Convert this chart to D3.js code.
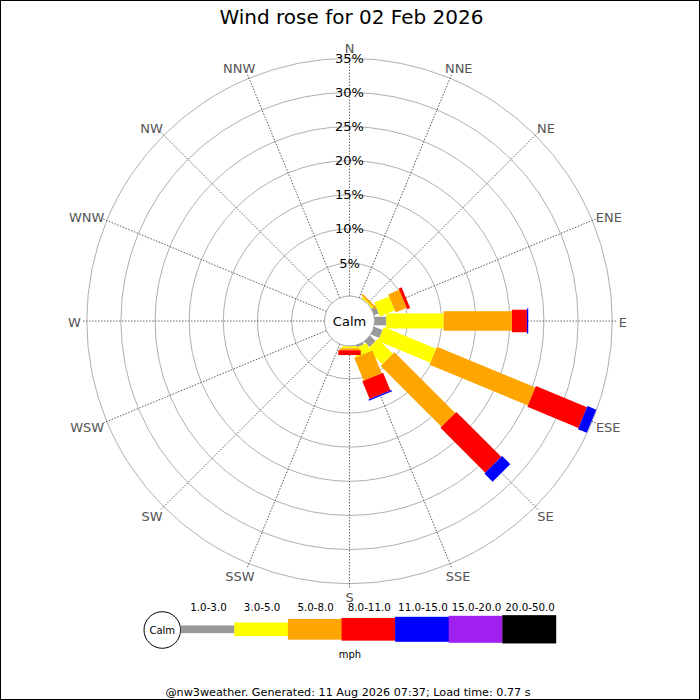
<!DOCTYPE html>
<html>
<head>
<meta charset="utf-8">
<script src="https://cdn.jsdelivr.net/npm/d3@7"></script>
<style>
  body { margin: 0; background: #fff; }
  svg { display: block; font-family: "DejaVu Sans", sans-serif; }
</style>
</head>
<body>
<div id="app"></div>
<script>
// wind rose data: % of time per direction, one array per speed band (mph)
const directions = ['N', 'NNE', 'NE', 'ENE', 'E', 'ESE', 'SE', 'SSE',
  'S', 'SSW', 'SW', 'WSW', 'W', 'WNW', 'NW', 'NNW'];
const speedBins = ['1.0-3.0', '3.0-5.0', '5.0-8.0', '8.0-11.0', '11.0-15.0', '15.0-20.0', '20.0-50.0'];
const band1to3   = [0, 0, 0.1, 0.9, 1.9, 1.5, 1.3, 0.5, 0.2, 0, 0, 0, 0, 0, 0, 0];
const band3to5   = [0, 0, 0.3, 2.35, 8.4, 8.3, 3.1, 1.3, 0.3, 0, 0, 0, 0, 0, 0, 0];
const band5to8   = [0, 0, 0.3, 1.75, 10.0, 15.6, 12.6, 3.6, 0.3, 0, 0, 0, 0, 0, 0, 0];
const band8to11  = [0, 0, 0, 0.45, 2.2, 8.1, 9.3, 2.8, 0.7, 0, 0, 0, 0, 0, 0, 0];
const band11to15 = [0, 0, 0, 0, 0.2, 1.4, 1.7, 0.2, 0, 0, 0, 0, 0, 0, 0, 0];
const band15to20 = [0, 0, 0, 0, 0, 0, 0, 0, 0, 0, 0, 0, 0, 0, 0, 0];
const band20to50 = [0, 0, 0, 0, 0, 0, 0, 0, 0, 0, 0, 0, 0, 0, 0, 0];
const pctTicks = [5, 10, 15, 20, 25, 30, 35];

const TITLE = 'Wind rose for 02 Feb 2026';
const FOOTER = '@nw3weather. Generated: 11 Aug 2026 07:37; Load time: 0.77 s';

const w = 700;
const h = 700;
const cx = 349.5;
const cy = 321;

const bands = [band1to3, band3to5, band5to8, band8to11, band11to15, band15to20, band20to50];
const colors = ['#999999', '#ffff00', '#ffa500', '#ff0000', '#0000ff', '#a020f0', '#000000'];
const petalWidth = [8.5, 15, 19.5, 22.5, 25, 27, 28.5];
const legendHeight = [7.7, 13.7, 20.7, 22.7, 25, 27, 28.3];

const rows = directions.map((dir, i) => {
  const row = { dir: dir, angle: i * 22.5 };
  speedBins.forEach((b, j) => { row[b] = bands[j][i]; });
  return row;
});

const stacked = d3.stack().keys(speedBins)(rows);

const r = d3.scaleLinear().domain([0, 35]).range([23.8, 262.7]);

const svg = d3.select('#app').append('svg')
  .attr('width', w)
  .attr('height', h);

svg.append('rect')
  .attr('x', 0.5).attr('y', 0.5)
  .attr('width', w - 1).attr('height', h - 1)
  .attr('fill', '#fff')
  .attr('stroke', '#000');

//////////TITLE//////////
svg.append('text')
  .attr('x', 351.5)
  .attr('y', 24)
  .attr('text-anchor', 'middle')
  .attr('font-size', 20)
  .attr('fill', '#000')
  .text(TITLE);

const plot = svg.append('g').attr('transform', `translate(${cx},${cy})`);

//////////GRID//////////
plot.selectAll('circle.ring')
  .data(pctTicks)
  .join('circle')
  .attr('class', 'ring')
  .attr('r', d => r(d))
  .attr('fill', 'none')
  .attr('stroke', '#b0b0b0')
  .attr('stroke-width', 1);

plot.selectAll('line.spoke')
  .data(rows)
  .join('line')
  .attr('class', 'spoke')
  .attr('x1', 0).attr('y1', -25)
  .attr('x2', 0).attr('y2', -r(35) - 4)
  .attr('transform', d => `rotate(${d.angle})`)
  .attr('stroke', '#444')
  .attr('stroke-width', 0.8)
  .attr('stroke-dasharray', '1.5,1.5');

//////////PETALS//////////
stacked.forEach((layer, j) => {
  plot.append('g')
    .selectAll('rect')
    .data(layer.filter(d => d[1] - d[0] > 0))
    .join('rect')
    .attr('transform', d => `rotate(${d.data.angle})`)
    .attr('x', -petalWidth[j] / 2)
    .attr('width', petalWidth[j])
    .attr('y', d => -r(d[1]))
    .attr('height', d => r(d[1]) - r(d[0]))
    .attr('fill', colors[j]);
});

//////////CALM CIRCLE//////////
plot.append('circle')
  .attr('r', 25)
  .attr('fill', '#fff')
  .attr('stroke', '#aaa');

plot.append('text')
  .attr('text-anchor', 'middle')
  .attr('dominant-baseline', 'central')
  .attr('font-size', 13)
  .text('Calm');

//////////PERCENT LABELS//////////
plot.selectAll('text.pct')
  .data(pctTicks)
  .join('text')
  .attr('class', 'pct')
  .attr('x', 0)
  .attr('y', d => -r(d))
  .attr('text-anchor', 'middle')
  .attr('dominant-baseline', 'central')
  .attr('font-size', 13)
  .attr('fill', '#000')
  .text(d => d + '%');

//////////COMPASS LABELS//////////
plot.selectAll('text.dir')
  .data(rows)
  .join('text')
  .attr('class', 'dir')
  .attr('text-anchor', 'middle')
  .attr('dominant-baseline', 'central')
  .attr('font-size', 13)
  .attr('fill', '#555')
  .text(d => d.dir)
  .each(function (d) {
    const a = d.angle * Math.PI / 180;
    const s = Math.sin(a);
    const c = Math.cos(a);
    const half = this.getComputedTextLength() / 2;
    const sign = Math.abs(s) < 1e-6 ? 0 : Math.sign(s);
    d3.select(this)
      .attr('x', 270 * s + sign * half * (0.2 + 0.6 * Math.abs(s)))
      .attr('y', -274.5 * c + 1.5);
  });

//////////LEGEND//////////
const legend = svg.append('g');
const segW = 53.6;
const legX = d3.scaleLinear().domain([0, speedBins.length]).range([180.7, 180.7 + segW * speedBins.length]);
const legY = 629.3;

legend.append('circle')
  .attr('cx', 162.3).attr('cy', 630)
  .attr('r', 18.3)
  .attr('fill', '#fff')
  .attr('stroke', '#000');

legend.append('text')
  .attr('x', 162.3).attr('y', 630)
  .attr('text-anchor', 'middle')
  .attr('dominant-baseline', 'central')
  .attr('font-size', 10)
  .text('Calm');

legend.selectAll('rect')
  .data(speedBins)
  .join('rect')
  .attr('x', (d, i) => legX(i))
  .attr('width', segW + 0.3)
  .attr('y', (d, i) => legY - legendHeight[i] / 2)
  .attr('height', (d, i) => legendHeight[i])
  .attr('fill', (d, i) => colors[i]);

legend.selectAll('text.bin')
  .data(speedBins)
  .join('text')
  .attr('class', 'bin')
  .attr('x', (d, i) => legX(i) + segW / 2 + 1)
  .attr('y', 611)
  .attr('text-anchor', 'middle')
  .attr('font-size', 10.3)
  .attr('fill', '#000')
  .text(d => d);

legend.append('text')
  .attr('x', 350)
  .attr('y', 658)
  .attr('text-anchor', 'middle')
  .attr('font-size', 10)
  .text('mph');

//////////FOOTER//////////
svg.append('text')
  .attr('x', 348)
  .attr('y', 696)
  .attr('text-anchor', 'middle')
  .attr('font-size', 11.2)
  .text(FOOTER);
</script>
</body>
</html>
